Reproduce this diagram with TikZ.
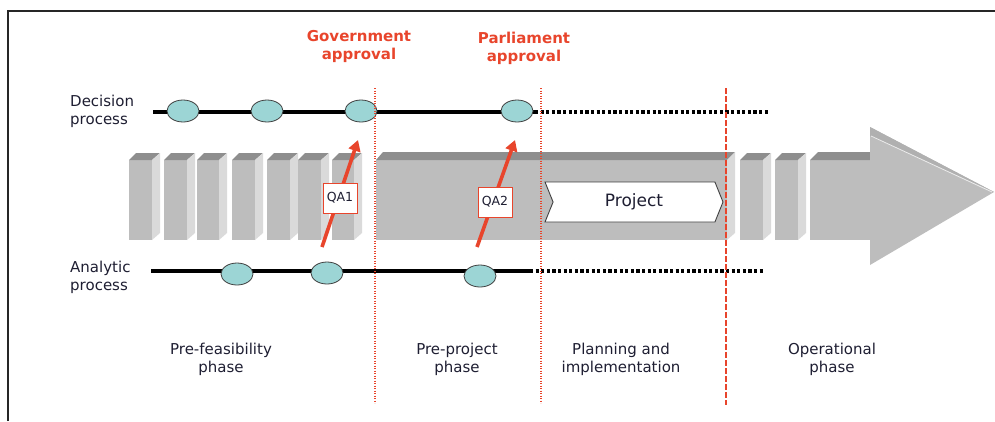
\documentclass[tikz,border=0pt]{standalone}
\usepackage{fontspec}
\setmainfont{DejaVu Sans}
\usetikzlibrary{shapes.geometric,shapes.symbols,arrows.meta}
\definecolor{apred}{HTML}{E8452C}
\definecolor{txtcol}{HTML}{1E1E32}
\definecolor{gfront}{HTML}{BDBDBD}
\definecolor{gtop}{HTML}{8E8E8E}
\definecolor{gside}{HTML}{DADADA}
\definecolor{gheadtop}{HTML}{B0B0B0}
\definecolor{bubble}{HTML}{9CD5D5}
\tikzset{
  redlbl/.style={text=apred, font=\bfseries\fontsize{15}{18}\selectfont, align=center, inner sep=0pt},
  proclbl/.style={text=txtcol, font=\fontsize{15}{18}\selectfont, align=left, inner sep=0pt, anchor=west},
  phaselbl/.style={text=txtcol, font=\fontsize{15}{18}\selectfont, align=center, inner sep=0pt},
  bubblenode/.style={ellipse, draw=black!75, line width=0.8pt, fill=bubble, minimum width=32pt, minimum height=22pt, inner sep=0pt},
  procline/.style={line width=4pt, black},
  procdots/.style={line width=4pt, black, dash pattern=on 3.2pt off 2.4pt},
  reddots/.style={apred, line width=1.6pt, dash pattern=on 1.2pt off 1.3pt},
  reddash/.style={apred, line width=2.2pt, dash pattern=on 6pt off 2pt},
  qaarrow/.style={apred, line width=3.6pt, -{Triangle[length=11pt,width=12pt]}},
  qabox/.style={draw=apred, line width=1pt, fill=white, minimum width=34pt, minimum height=30pt, inner sep=1pt, text=txtcol, font=\fontsize{12.5}{14}\selectfont},
  projshape/.style={signal, signal to=east, signal from=west, signal pointer angle=136, draw=black!75, line width=0.9pt, fill=white, minimum width=178pt, minimum height=40pt, inner sep=0pt, text=txtcol, font=\fontsize{17}{20}\selectfont},
  gfrontst/.style={fill=gfront},
  gtopst/.style={fill=gtop},
  gsidest/.style={fill=gside}
}
\begin{document}
\begin{tikzpicture}[x=1pt,y=-1pt]
\useasboundingbox (0,0) rectangle (995,421);
% frame
\draw[line width=1.5pt, black!85] (8,421) -- (8,11) -- (995,11);

% gray blocks
\foreach \x/\w in {129/23,164/23,197/22,232/23,267/23,298/23,332/22,740/23,775/23}{
  \fill[gfrontst] (\x,160) rectangle (\x+\w,240);
  \fill[gtopst] (\x,160) -- (\x+7,153) -- (\x+\w+8,153) -- (\x+\w,160) -- cycle;
  \fill[gsidest] (\x+\w,160) -- (\x+\w+8,153) -- (\x+\w+8,233) -- (\x+\w,240) -- cycle;
}
% band
\fill[gfrontst] (376,160) rectangle (727,240);
\fill[gtopst] (376,160) -- (383,152) -- (735,152) -- (727,160) -- cycle;
\fill[gsidest] (727,160) -- (735,152) -- (735,233) -- (727,240) -- cycle;
% final arrow
\fill[gfrontst] (810,160) rectangle (871,240);
\fill[gtopst] (810,160) -- (818,152) -- (871,152) -- (871,160) -- cycle;
\fill[gfrontst] (870,127) -- (994,192) -- (870,265) -- cycle;
\fill[gheadtop] (870,127) -- (994,192) -- (870,136) -- cycle;
\draw[white!85!gray, line width=0.8pt] (871,136) -- (992,192);

% project chevron
\node[projshape] (proj) at (634,202) {Project};

% process lines
\coordinate (ds) at (153,112);
\coordinate (dm) at (535,112);
\coordinate (de) at (770,112);
\coordinate (as) at (151,271);
\coordinate (am) at (530,271);
\coordinate (ae) at (765,271);
\draw[procline] (ds) -- (dm);
\draw[procdots] (dm) -- (de);
\draw[procline] (as) -- (am);
\draw[procdots] (am) -- (ae);

% bubbles
\node[bubblenode] (d1) at (183,111) {};
\node[bubblenode] (d2) at (267,111) {};
\node[bubblenode] (d3) at (361,111) {};
\node[bubblenode] (d4) at (517,111) {};
\node[bubblenode] (a1) at (237,274) {};
\node[bubblenode] (a2) at (327,273) {};
\node[bubblenode] (a3) at (480,276) {};

% red phase dividers
\coordinate (v1t) at (375,88);  \coordinate (v1b) at (375,403);
\coordinate (v2t) at (541,88);  \coordinate (v2b) at (541,403);
\coordinate (v3t) at (726,88);  \coordinate (v3b) at (726,405);
\draw[reddots] (v1t) -- (v1b);
\draw[reddots] (v2t) -- (v2b);
\draw[reddash] (v3t) -- (v3b);

% QA arrows
\coordinate (q1s) at (322,247); \coordinate (q1e) at (358,140);
\coordinate (q2s) at (477,247); \coordinate (q2e) at (515,140);
\draw[qaarrow] (q1s) -- (q1e);
\draw[qaarrow] (q2s) -- (q2e);
\node[qabox] (qa1) at (340,198) {QA1};
\node[qabox] (qa2) at (495,202) {QA2};

% labels
\node[redlbl] (gov) at (359,46) {Government\\approval};
\node[redlbl] (parl) at (524,48) {Parliament\\approval};
\node[proclbl] (dec) at (70,111) {Decision\\process};
\node[proclbl] (ana) at (70,277) {Analytic\\process};
\node[phaselbl] (ph1) at (221,359) {Pre-feasibility\\phase};
\node[phaselbl] (ph2) at (457,359) {Pre-project\\phase};
\node[phaselbl] (ph3) at (621,359) {Planning and\\implementation};
\node[phaselbl] (ph4) at (832,359) {Operational\\phase};
\end{tikzpicture}
\end{document}
